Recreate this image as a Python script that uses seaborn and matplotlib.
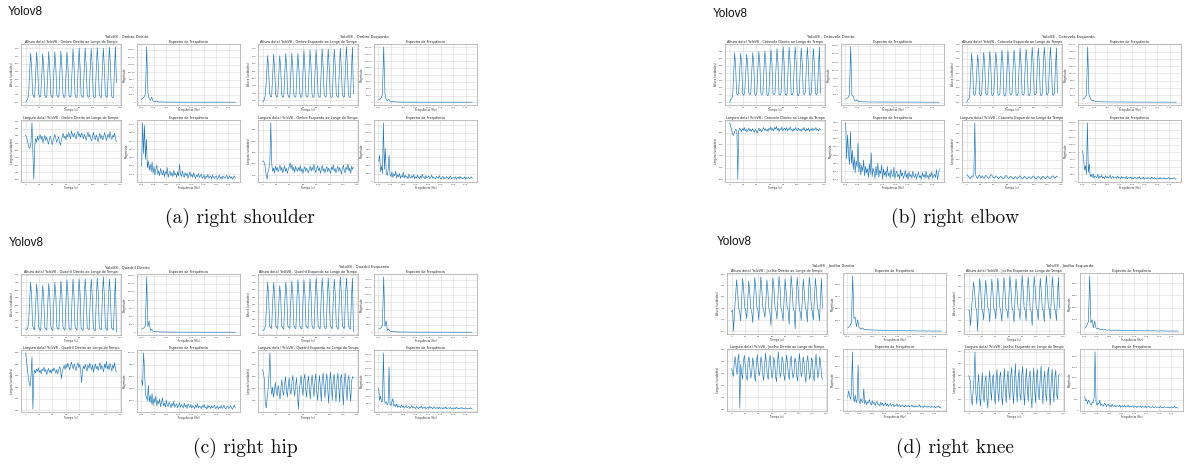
import numpy as np
import matplotlib
matplotlib.use("Agg")
import matplotlib.pyplot as plt
import seaborn as sns

sns.set_style("whitegrid")
plt.rcParams['font.family'] = ['DejaVu Sans']

# ---------------- data ----------------
# Ombro (a)
ombro_dir_altura = [100,103, 108,118,175,228,192,122, 114,113,172,230,188,121, 113,115,168,226,190,119,
    112,114,176,232,186,120, 113,112,174,231,191,118, 114,113,177,233,189,122, 112,114,171,230,193,117,
    113,115,180,238,195,120, 112,113,182,240,192,118, 114,112,179,241,196,121, 113,114,183,239,194,117,
    112,113,185,242,197,119, 114,112,181,240,193,120, 113,114,186,243,198,118, 112,113,184,244,150]
ombro_esq_altura = [95,98, 104,120,170,222,185,118, 110,109,168,226,182,116, 109,111,165,222,186,115,
    108,110,172,228,182,116, 109,108,170,229,187,114, 110,109,173,228,185,118, 108,110,175,235,189,113,
    109,111,177,237,191,116, 108,109,178,237,188,114, 110,108,176,240,192,117, 109,110,180,240,190,113,
    108,109,181,239,193,115, 110,108,179,242,189,116, 109,110,184,246,194,114, 108,109,182,245,118]
ombro_dir_altura_fft = [1100,1400,1900,2700,18500,3100,1300,700,1800,600,350,300,550,250,180,160,200,150,140,130,
    170,120,110,150,130,100,120,140,110,100,130,90,110,120,100,95,115,105,90,110,100,95,120,90,100,105,95,110,90,100,
    85,105,95,90,110,100,85,95,100,90,105,95,85,100,90,95,100,85,90,105,95,90,85,100,95,90]
ombro_esq_altura_fft = [1000,1300,1700,2900,20200,3300,1100,600,1200,500,300,250,420,220,170,150,190,140,130,160,
    120,110,140,100,130,115,95,120,105,90,125,100,95,110,90,105,120,95,100,85,110,95,90,105,100,85,95,110,90,100,
    95,85,105,90,100,95,85,90,100,95,80,90,100,85,95,90,80,95,85,90,100,85,80,95,90,85]
ombro_dir_largura = [303,296,285,270,258,262,280,345,240,152, 268,292,278,300,285,296,305,288,299,276,
    290,302,284,296,281,272,290,299,286,270, 283,296,305,290,278,288,297,280,268,285,
    298,309,292,300,287,306,296,312,302,290, 318,305,296,310,300,289,305,316,298,307,
    295,310,302,290,306,297,285,301,314,296, 305,290,283,300,312,295,287,304,293,280,
    298,309,290,302,286,296,312,300,284,297, 306,292,315,298,288,303,296,310,290,280]
ombro_esq_largura = [213,212,205,185,150,133,165,180,215,380, 200,168,182,160,190,172,185,165,178,195,
    170,186,160,175,192,168,181,158,176,189, 205,178,196,170,185,162,190,175,168,184,
    170,193,165,180,158,176,188,166,182,170, 160,178,190,168,185,172,198,175,162,180,
    192,170,183,158,176,194,168,180,160,177, 189,165,182,170,158,186,174,196,168,180,
    160,177,190,166,184,170,155,181,195,172, 160,186,174,200,168,182,158,190,176,185]
ombro_dir_largura_fft = [2000,7200,3500,6900,2800,5200,1800,2600,1500,2200,1300,2500,1100,1900,900,1600,2100,1000,1400,800,
    1700,1200,900,1500,700,1300,1000,1800,600,1100,1400,800,1200,700,1500,900,1100,600,1300,800,
    2200,1000,700,1400,900,600,1200,800,1100,500,900,1300,700,1000,600,1200,800,500,900,700,
    1100,600,800,1000,500,700,900,400,800,600,1000,500,700,800,400,900,600,500,700,800,
    400,600,900,500,700,400,800,600,500,700,900,400,600,800,500,700,400,600,800,500]
ombro_esq_largura_fft = [5000,6500,2500,3800,2000,14500,3000,8200,2200,1500,2900,6500,1800,1200,2400,1000,1900,1400,2600,900,
    1700,1200,2000,800,1500,1100,2300,900,1600,1000,1300,700,1900,1100,800,1500,1000,1700,700,1200,
    900,1600,1100,700,1400,800,1800,1000,1200,600,1500,900,1100,1400,700,1000,1600,800,1200,900,
    700,1300,1000,800,1500,900,600,1100,1300,700,1000,800,1200,900,600,1100,1400,700,900,1000,
    800,1200,600,900,1100,700,1300,800,1000,700,900,1200,600,1000,800,1100,700,900,1200,800]

# Cotovelo (b)
cotovelo_dir_altura = [100,108, 112,120,190,270,225,130, 125,131,205,268,230,128, 124,133,200,264,228,131,
    126,129,208,270,226,127, 123,132,212,274,233,130, 125,130,210,276,229,126, 122,134,215,280,235,129,
    126,131,218,284,231,127, 124,133,220,290,236,130, 123,130,217,288,232,128, 125,134,222,290,237,126,
    122,131,219,286,230,129, 126,133,221,288,234,127, 124,130,216,284,228,131, 125,132,220,288,130]
cotovelo_esq_altura = [100,106, 110,118,192,270,222,128, 124,130,200,264,226,127, 122,131,206,272,230,129,
    125,128,210,276,228,126, 123,132,208,274,231,128, 124,129,214,280,233,127, 121,133,212,278,229,130,
    125,130,215,280,235,126, 123,131,220,286,232,129, 124,129,218,284,236,127, 122,132,224,290,233,128,
    126,130,222,288,237,126, 123,131,226,292,234,129, 125,133,224,290,231,127, 124,130,221,288,132]
cotovelo_dir_altura_fft = [1100,1300,1600,2500,17200,2300,2000,700,500,900,400,300,350,260,240,300,220,250,200,230,
    210,190,240,200,180,220,190,170,210,180,200,170,190,160,210,180,170,190,160,180,200,170,150,190,170,160,180,150,
    170,190,160,150,170,160,180,150,160,170,140,160,150,170,140,160,150,130,160,150,140,170,140,150,130,150,140,130]
cotovelo_esq_altura_fft = [1200,1400,1800,2600,19200,2800,1700,800,600,700,400,350,300,280,320,250,230,270,220,240,
    200,230,210,190,220,200,180,210,190,170,200,180,190,170,160,190,180,170,160,180,150,170,160,180,150,160,170,150,
    140,160,150,170,140,150,160,140,130,150,140,160,130,140,150,130,140,120,150,130,140,120,130,140,120,130,120,110]
cotovelo_dir_largura = [297,292,287,280,275,279,284,286,281,200, 283,288,285,282,287,284,289,283,286,281,
    285,288,283,286,282,287,284,281,286,283, 279,284,288,283,286,281,285,289,284,287,
    283,286,282,288,285,290,284,287,283,289, 286,291,284,288,282,287,285,290,283,286,
    288,284,289,283,287,285,290,284,286,282, 287,284,289,285,283,288,284,286,282,287,
    284,289,285,283,287,284,288,282,286,284, 288,283,287,285,289,284,286,283,287,285]
cotovelo_esq_largura = [162,160,155,146,140,150,158,152,170,460, 160,148,142,155,162,150,145,158,150,143,
    152,160,155,147,141,150,158,164,157,149, 143,150,157,152,145,140,148,155,151,144,
    139,146,154,160,152,145,141,148,156,150, 143,138,146,153,147,140,145,152,158,150,
    144,139,147,155,149,142,138,146,153,148, 141,145,152,157,149,142,139,147,154,150,
    143,138,146,155,150,144,140,148,156,151, 145,140,147,153,158,150,144,149,156,152]
cotovelo_dir_largura_fft = [8000,3500,6500,4200,2800,6900,3000,4600,2200,3800,1800,3300,2500,5500,1900,3100,1500,2700,2000,3400,
    1400,2600,1800,2300,1200,2900,1600,4300,1300,2400,1900,1100,2600,1500,3000,1200,2100,1700,2800,1000,
    2300,1500,1900,1200,2600,1400,1800,1100,2200,1600,1300,2500,1100,1700,2000,1300,1600,1000,2200,1400,
    1800,1100,1500,2100,1200,1700,1000,1900,1300,1600,1100,2000,1400,1200,1700,1000,1500,1900,1200,1400,
    1000,1800,1300,1600,1100,2000,1200,1500,1000,1700,1300,1900,1100,1400,1600,1200,2200,1000,1500,2300]
cotovelo_esq_largura_fft = [10500,7500,4000,5500,2500,20000,3200,6000,1800,2500,1500,2800,1200,2000,1700,1400,2600,1100,1900,1500,
    2200,1300,1700,1000,2100,1400,1800,1200,1600,2300,1000,1500,1900,1200,1400,1700,1100,2000,1300,1500,
    1000,1800,1200,1600,1400,1100,1900,1000,1300,1500,1200,1700,1000,1400,1100,1600,1300,900,1500,1200,
    1800,1000,1300,1100,1600,900,1400,1200,1000,1500,1100,1300,900,1600,1200,1000,1400,1100,900,1300,
    1200,1000,1500,900,1200,1100,1400,900,1300,1000,1200,1500,900,1100,1300,1000,1200,1400,900,1100]

# Quadril (c)
quadril_dir_altura = [320,319, 322,340,410,476,430,332, 322,318,402,470,425,328, 320,316,398,466,420,326,
    321,317,405,472,428,330, 318,315,408,476,431,327, 322,319,410,480,433,329, 320,316,412,484,436,326,
    319,318,415,486,430,328, 321,317,414,486,437,325, 318,316,416,488,432,327, 320,319,414,486,435,329,
    317,315,418,490,438,326, 320,318,420,494,433,328, 319,316,415,486,436,325, 321,317,418,490,310]
quadril_esq_altura = [310,312, 316,330,405,476,428,326, 320,318,406,474,430,328, 321,317,396,464,424,326,
    319,316,408,476,431,327, 322,318,410,480,434,329, 320,317,414,484,436,326, 318,316,413,484,432,328,
    321,318,415,486,437,327, 319,317,418,490,435,329, 320,316,417,490,438,326, 318,318,416,490,433,328,
    321,317,412,486,436,327, 319,316,420,494,439,329, 320,318,417,490,434,326, 318,316,418,490,305]
quadril_dir_altura_fft = [1000,1200,1500,2200,17200,1800,3500,600,1000,400,300,250,350,200,180,160,150,170,140,130,
    150,120,110,130,100,120,110,95,115,100,90,110,95,100,85,105,90,95,100,85,90,95,80,100,85,90,80,95,
    85,75,90,85,80,95,75,85,90,80,75,85,80,90,75,80,85,70,80,75,85,70,80,75,70,85,75,70]
quadril_esq_altura_fft = [1100,1300,1600,2400,18500,2000,3800,700,1200,450,350,280,400,230,190,170,160,180,150,140,
    160,130,120,140,110,125,115,100,120,105,95,115,100,105,90,110,95,100,105,90,95,100,85,105,90,95,85,100,
    90,80,95,90,85,100,80,90,95,85,80,90,85,95,80,85,90,75,85,80,90,75,85,80,75,90,80,75]
quadril_dir_largura = [400,388,372,358,347,342,360,393,302,362, 370,365,372,368,374,366,370,363,372,369,
    375,367,371,362,369,373,366,370,364,372, 368,374,370,365,371,363,369,376,372,355,
    368,373,378,371,380,374,382,377,370,379, 384,376,372,381,375,369,378,383,374,380,
    371,348,369,377,372,380,374,368,379,373, 382,375,370,379,366,374,381,372,377,369,
    376,383,371,378,373,367,380,374,385,372, 378,370,382,375,368,379,373,383,370,366]
quadril_esq_largura = [372,366,355,315,307,324,338,362,400,345, 330,342,325,338,350,333,328,345,336,322,
    340,355,335,328,347,360,338,325,344,358, 336,330,352,362,340,327,345,358,333,305,
    335,350,362,342,328,355,364,338,325,350, 361,340,322,348,363,344,326,352,365,335,
    320,346,362,340,318,355,366,342,324,352, 365,338,315,350,368,344,320,356,364,336,
    318,353,366,340,317,358,364,335,312,350, 366,342,320,355,362,338,318,352,360,358]
quadril_dir_largura_fft = [5500,4500,10000,7200,3000,2600,2000,4600,1800,2900,1500,3200,1200,2400,1700,2800,1100,2000,1500,2300,
    1000,1700,2500,1200,1600,900,2100,1300,1000,1800,1400,800,1600,1100,1900,900,1300,1500,800,1200,
    1700,900,1400,1100,800,1600,1000,1300,700,1500,1100,900,1400,800,1200,1000,700,1300,900,1500,
    800,1100,1000,700,1200,900,1400,800,1000,600,1300,900,1100,700,1200,800,1000,1300,700,900,
    1100,600,1000,800,1200,700,900,1300,800,600,1000,1100,700,900,1200,800,600,1000,1300,800]
quadril_esq_largura_fft = [6500,3000,4200,2500,2800,16500,3000,2200,2600,1800,2300,12500,2000,1500,2600,3500,1400,1800,1200,2000,
    1000,1500,1300,900,1700,1100,1400,800,1200,1600,900,1100,1300,700,1000,1500,800,1200,900,700,
    1300,1000,600,1100,900,1400,700,1000,800,1200,600,900,1100,700,1300,800,1000,600,900,1200,
    700,800,1000,600,1100,700,900,800,600,1000,700,1200,600,800,900,700,1000,600,800,700,
    900,600,1100,700,800,600,900,700,1000,600,800,700,900,600,700,800,600,900,700,500]

# Joelho (d)
joelho_dir_altura = [134,137, 100,138,160,190,170,140, 135,118,155,192,172,142, 136,122,150,188,168,140,
    134,115,158,194,175,143, 137,120,160,195,172,141, 135,124,152,190,170,139, 133,110,157,193,174,142,
    136,121,162,196,176,140, 134,118,155,192,171,143, 137,112,160,197,175,141, 135,104,158,194,173,140,
    133,119,153,191,169,142, 136,116,161,195,176,141, 134,120,157,193,172,139, 137,118,156,192,140]
joelho_esq_altura = [138,136, 110,140,165,188,172,143, 138,100,158,194,176,140, 136,120,160,191,170,142,
    139,117,157,193,174,141, 137,122,162,195,171,143, 135,118,160,196,177,140, 138,123,164,198,175,142,
    136,116,159,194,172,141, 139,121,165,199,178,143, 137,119,161,197,174,140, 135,110,163,198,176,142,
    138,120,158,195,171,141, 136,117,164,199,177,143, 139,122,162,197,173,140, 137,119,160,196,141]
joelho_dir_altura_fft = [700,900,1100,1600,9500,2300,2500,900,2100,800,600,500,700,450,400,500,380,420,350,400,
    330,360,300,380,320,290,350,300,270,320,280,300,260,290,250,280,300,240,270,250,230,260,240,280,220,250,
    230,210,240,220,250,200,230,210,240,190,220,200,180,210,190,230,180,200,170,210,190,180,160,200,170,190,160,180,170,150]
joelho_esq_altura_fft = [600,800,1200,1700,9200,1500,2000,700,1800,700,500,600,450,400,500,350,420,380,300,360,
    330,280,350,300,270,320,290,250,310,270,240,300,260,230,280,250,220,270,240,210,260,230,200,250,220,240,
    200,230,210,190,240,200,220,180,210,190,230,170,200,180,160,210,190,170,200,160,180,170,150,190,160,170,150,180,160,140]
joelho_dir_largura = [368,362,355,378,388,370,358,385,392,302, 375,360,350,382,390,372,355,348,380,388,
    368,352,362,386,378,355,347,375,392,370, 356,364,388,380,358,348,372,394,376,355,
    350,382,390,366,352,360,387,379,354,346, 378,396,370,353,362,388,382,357,348,374,
    391,375,355,350,383,389,364,352,360,386, 380,356,347,376,393,371,354,363,388,377,
    355,345,379,390,368,350,358,386,381,356, 347,374,392,370,352,360,388,378,355,350]
joelho_esq_largura = [360,358,350,320,310,335,355,400,330,312, 345,362,325,308,340,365,330,315,352,360,
    322,305,348,368,335,318,355,362,328,312, 350,370,332,316,358,366,325,310,345,372,
    338,314,352,368,330,320,360,374,335,312, 348,380,340,315,355,370,328,318,362,375,
    333,310,350,372,338,316,358,368,326,305, 346,373,335,314,360,370,330,319,354,376,
    340,312,352,368,328,317,362,374,333,310, 348,371,336,315,358,369,327,320,360,362]
joelho_dir_largura_fft = [600,900,700,500,800,2700,600,400,700,350,500,2100,450,300,550,400,350,1000,300,450,
    250,400,350,500,300,250,450,300,380,220,350,420,260,300,200,380,250,330,200,280,
    350,210,300,180,260,320,200,240,290,170,250,210,300,180,230,270,160,220,260,190,
    150,240,200,170,230,150,210,180,250,160,200,140,220,180,150,200,260,140,190,170,
    130,210,160,180,140,200,150,170,130,190,160,140,180,120,170,150,210,130,160,100]
joelho_esq_largura_fft = [650,450,500,300,480,420,300,250,400,350,600,2700,400,250,350,300,480,220,300,250,
    200,350,280,180,260,300,200,240,170,280,220,190,250,160,230,210,180,260,150,220,
    200,170,240,160,210,180,250,150,200,170,190,230,150,180,210,140,200,170,160,220,
    140,190,170,150,210,130,180,160,200,140,170,150,190,130,160,180,140,170,150,130,
    190,140,160,120,180,150,140,170,130,160,120,150,170,130,140,220,120,150,130,110]

panel_joints = ["Ombro", "Cotovelo", "Quadril", "Joelho"]
panel_captions = ["(a) right shoulder", "(b) right elbow", "(c) right hip", "(d) right knee"]
sides = ["Direito", "Esquerdo"]

data = {
    ("Ombro", "Direito"): (ombro_dir_altura, ombro_dir_altura_fft, ombro_dir_largura, ombro_dir_largura_fft),
    ("Ombro", "Esquerdo"): (ombro_esq_altura, ombro_esq_altura_fft, ombro_esq_largura, ombro_esq_largura_fft),
    ("Cotovelo", "Direito"): (cotovelo_dir_altura, cotovelo_dir_altura_fft, cotovelo_dir_largura, cotovelo_dir_largura_fft),
    ("Cotovelo", "Esquerdo"): (cotovelo_esq_altura, cotovelo_esq_altura_fft, cotovelo_esq_largura, cotovelo_esq_largura_fft),
    ("Quadril", "Direito"): (quadril_dir_altura, quadril_dir_altura_fft, quadril_dir_largura, quadril_dir_largura_fft),
    ("Quadril", "Esquerdo"): (quadril_esq_altura, quadril_esq_altura_fft, quadril_esq_largura, quadril_esq_largura_fft),
    ("Joelho", "Direito"): (joelho_dir_altura, joelho_dir_altura_fft, joelho_dir_largura, joelho_dir_largura_fft),
    ("Joelho", "Esquerdo"): (joelho_esq_altura, joelho_esq_altura_fft, joelho_esq_largura, joelho_esq_largura_fft),
}

# ---------------- layout ----------------
W, H = 1185, 465
fig = plt.figure(figsize=(W / 100, H / 100), dpi=100)
fig.patch.set_facecolor("white")

def ax_at(x, y, w, h):
    return fig.add_axes([x / W, 1 - (y + h) / H, w / W, h / H])

panel_origins = [(0, 0), (704, 0), (0, 230), (706, 229)]
caption_pos = [(240, 218), (955, 218), (245, 448), (955, 448)]
yolo_pos = [(8, 12), (713, 14), (9, 243), (717, 242)]
BLUE = "#1f77b4"

def style_ax(ax, kind):
    ax.set_facecolor("white")
    for s in ax.spines.values():
        s.set_linewidth(0.45)
        s.set_color("#9a9a9a")
    ax.grid(True, color="#d9d9d9", linewidth=0.4)
    ax.tick_params(labelsize=1.7, length=0.8, width=0.3, pad=0.5, colors="#444444")
    if kind == "time":
        ax.set_xticks(np.arange(0, 141, 20))
    else:
        ax.set_xticks(np.arange(0, 1.76, 0.25))
        ax.set_xticklabels([f"{v:.2f}" for v in np.arange(0, 1.76, 0.25)])

def draw_side(ox, oy, joint, side):
    alt, alt_fft, lar, lar_fft = data[(joint, side)]
    nome = f"{joint} {side}"
    t_alt = np.linspace(0, 135, len(alt))
    t_lar = np.linspace(0, 135, len(lar))
    f_alt = np.linspace(0.01, 1.885, len(alt_fft))
    f_lar = np.linspace(0.01, 1.89, len(lar_fft))
    specs = [
        ((21, 44, 100, 61), t_alt, alt, f"Altura do(a) YoloV8 - {nome} ao Longo do Tempo", "Tempo (s)", "Altura (unidades)", "time"),
        ((137, 44, 103, 61), f_alt, alt_fft, "Espectro de Frequência", "Frequência (Hz)", "Magnitude", "freq"),
        ((21, 120, 100, 62), t_lar, lar, f"Largura do(a) YoloV8 - {nome} ao Longo do Tempo", "Tempo (s)", "Largura (unidades)", "time"),
        ((137, 120, 103, 62), f_lar, lar_fft, "Espectro de Frequência", "Frequência (Hz)", "Magnitude", "freq"),
    ]
    for (x, y, w, h), xs, ys, title, xl, yl, kind in specs:
        ax = ax_at(ox + x, oy + y, w, h)
        sns.lineplot(x=xs, y=ys, ax=ax, color=BLUE, linewidth=0.45)
        ax.set_title(title, fontsize=2.4, pad=0.9, color="#222222")
        ax.set_xlabel(xl, fontsize=2.0, labelpad=0.5, color="#333333")
        ax.set_ylabel(yl, fontsize=2.0, labelpad=0.6, color="#333333")
        style_ax(ax, kind)
    fig.text((ox + 127) / W, 1 - (oy + 37) / H, f"YoloV8 - {nome}", ha="center", va="center",
             fontsize=2.7, color="#222222")

for i, joint in enumerate(panel_joints):
    ox, oy = panel_origins[i]
    for j, side in enumerate(sides):
        draw_side(ox + j * 237, oy, joint, side)
    yx, yy = yolo_pos[i]
    fig.text(yx / W, 1 - yy / H, "Yolov8", ha="left", va="center", fontsize=8.5,
             family=["Liberation Sans", "DejaVu Sans"], color="#111111")
    cx, cy = caption_pos[i]
    fig.text(cx / W, 1 - cy / H, panel_captions[i], ha="center", va="center", fontsize=14,
             family=["cmr10", "DejaVu Serif"], color="#111111")

fig.savefig("out.png", dpi=100, facecolor="white")
